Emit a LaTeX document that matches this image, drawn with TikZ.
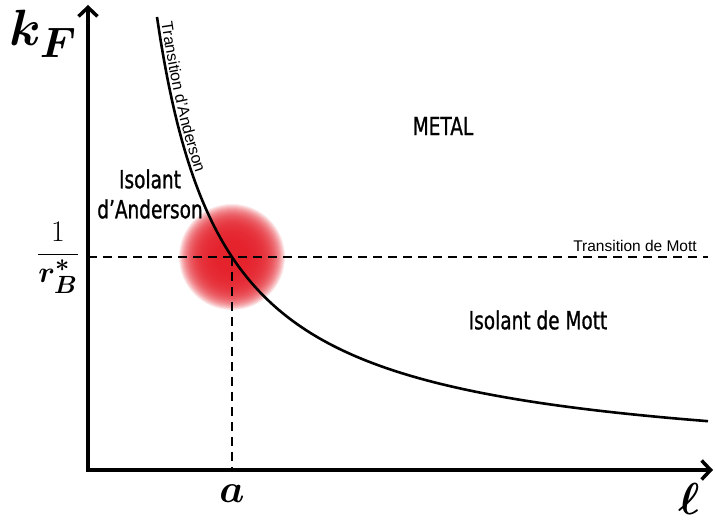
\documentclass[tikz,border=0pt]{standalone}
\usepackage{amsmath}
\usepackage{bm}
\usepackage{graphicx}
\usepackage{fontspec}
\usepackage{tikz}
\usetikzlibrary{arrows.meta,decorations.text}
\newfontfamily\lblfont[FakeStretch=0.74,FakeBold=0.9]{DejaVu Sans}
\newfontfamily\trfont{Liberation Sans}
\definecolor{blobred}{HTML}{E4202A}

\begin{document}
\begin{tikzpicture}[
  x=1pt,y=1pt,
  >={Straight Barb[length=9pt,width=19pt]},
  axis/.style={line width=3.5pt, line join=miter},
  guide/.style={line width=2.4pt, dash pattern=on 9pt off 6pt},
  curve/.style={line width=2.6pt},
  region/.style={font=\lblfont\fontsize{25}{30}\selectfont, align=center, inner sep=0pt},
  trlabel/.style={font=\trfont\fontsize{15.5}{18}\selectfont, inner sep=0pt},
  mathlbl/.style={inner sep=0pt, font=\Huge},
]
\useasboundingbox (-88,-52) rectangle (627,470);
% key points
\coordinate (O) at (0,0);
\coordinate (ytop) at (0,465);
\coordinate (xtip) at (625,0);
\coordinate (P) at (144,213);
\coordinate (hstart) at (0,213);
\coordinate (hend) at (620,213);
\coordinate (vend) at (144,0);
% red spot at the crossing
\foreach \r in {53,52,...,14}
  \fill[blobred, fill opacity=0.1] (P) circle [radius=\r pt];
% dashed guides
\draw[guide] (hstart) -- (hend);
\draw[guide] (P) -- (vend);
% Anderson transition curve
\draw[curve] plot[domain=69:620, samples=160, smooth] (\x, {301.52/((\x-2.44)/100)});
\path[decorate, decoration={text along path, raise=3.5pt, text align={left indent=6pt},
  text={|\trfont\fontsize{16}{18}\selectfont|Transition d’Anderson}}]
  plot[domain=69:130, samples=30] (\x, {301.52/((\x-2.44)/100)});
% axes
\draw[axis,<->] (ytop) -- (O) -- (xtip);
% axis labels
\node[mathlbl] (kF) at (-45,436) {\scalebox{2.05}{$\bm{k_F}$}};
\node[mathlbl] (frac) at (-30,212) {\scalebox{1.2}{$\dfrac{1}{\bm{r_B^*}}$}};
\node[mathlbl] (aval) at (144,-24) {\scalebox{1.6}{$\bm{a}$}};
\node[mathlbl] (ell) at (601,-29) {\scalebox{1.8}{$\bm{\ell}$}};
% regions
\node[region] (metal) at (355,344) {METAL};
\node[region] (mott) at (450,150) {Isolant de Mott};
\node[region] (anderson) at (62,276) {Isolant\\d’Anderson};
\node[trlabel] (trmott) at (547,224) {Transition de Mott};
\end{tikzpicture}
\end{document}
